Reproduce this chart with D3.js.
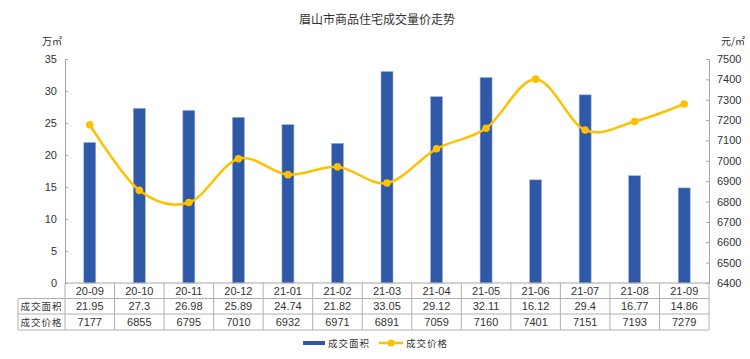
<!DOCTYPE html>
<html>
<head>
<meta charset="utf-8">
<script src="https://cdn.jsdelivr.net/npm/d3@7"></script>
<style>
  body { margin: 0; background: #fff; }
  text { font-family: "Liberation Sans", Arial, sans-serif; fill: #333; }
  .cjk { font-family: "Noto Sans CJK SC", sans-serif; }
</style>
</head>
<body>
<div id="chart"></div>
<script>
const months = ['20-09', '20-10', '20-11', '20-12', '21-01', '21-02', '21-03', '21-04', '21-05', '21-06', '21-07', '21-08', '21-09']
const areaValues = [21.95, 27.3, 26.98, 25.89, 24.74, 21.82, 33.05, 29.12, 32.11, 16.12, 29.4, 16.77, 14.86]
const priceValues = [7177, 6855, 6795, 7010, 6932, 6971, 6891, 7059, 7160, 7401, 7151, 7193, 7279]
const areaTicks = [0, 5, 10, 15, 20, 25, 30, 35]
const priceTicks = [6400, 6500, 6600, 6700, 6800, 6900, 7000, 7100, 7200, 7300, 7400, 7500]

const width = 750
const height = 359
const plot = { left: 65, right: 709, top: 59, bottom: 283 }

const barColor = '#2f59a7'
const lineColor = '#ffc000'
const gridColor = '#a6a6a6'

const svg = d3.select('#chart')
  .append('svg')
  .attr('width', width)
  .attr('height', height)

// scales
const x = d3.scaleBand()
  .domain(months)
  .range([plot.left, plot.right])
  .padding(0)

const yLeft = d3.scaleLinear()
  .domain([0, 35])
  .range([plot.bottom, plot.top])

const yRight = d3.scaleLinear()
  .domain([6400, 7500])
  .range([plot.bottom, plot.top])

// title
svg.append('text')
  .attr('class', 'cjk')
  .attr('x', 377)
  .attr('y', 24)
  .attr('text-anchor', 'middle')
  .style('font-size', '12px')
  .text('眉山市商品住宅成交量价走势')

// units
svg.append('text')
  .attr('class', 'cjk')
  .attr('x', 42)
  .attr('y', 45)
  .style('font-size', '10px')
  .text('万㎡')

svg.append('text')
  .attr('class', 'cjk')
  .attr('x', 721)
  .attr('y', 45)
  .style('font-size', '10px')
  .text('元/㎡')

// left axis
const leftAxis = svg.append('g')
  .attr('transform', `translate(${plot.left},0)`)
  .call(d3.axisLeft(yLeft).tickValues(areaTicks).tickSizeInner(-3).tickSizeOuter(0).tickPadding(8))
leftAxis.select('.domain').attr('stroke', gridColor)
leftAxis.selectAll('.tick line').attr('stroke', gridColor)
leftAxis.selectAll('.tick text')
  .style('font-size', '11px')
  .style('font-family', '"Liberation Sans", Arial, sans-serif')
  .attr('fill', '#333')

// right axis
const rightAxis = svg.append('g')
  .attr('transform', `translate(${plot.right},0)`)
  .call(d3.axisRight(yRight).tickValues(priceTicks).tickFormat(d3.format('d'))
    .tickSizeInner(-3).tickSizeOuter(0).tickPadding(8))
rightAxis.select('.domain').attr('stroke', gridColor)
rightAxis.selectAll('.tick line').attr('stroke', gridColor)
rightAxis.selectAll('.tick text')
  .style('font-size', '11px')
  .style('font-family', '"Liberation Sans", Arial, sans-serif')
  .attr('fill', '#333')

// bars
const barWidth = 12
svg.selectAll('.bar')
  .data(areaValues)
  .enter()
  .append('rect')
  .attr('class', 'bar')
  .attr('x', (d, i) => x(months[i]) + x.bandwidth() / 2 - barWidth / 2)
  .attr('y', d => yLeft(d))
  .attr('width', barWidth)
  .attr('height', d => yLeft(0) - yLeft(d))
  .attr('fill', barColor)
  .attr('stroke', '#9db4e0')
  .attr('stroke-width', 0.6)

// price line
const line = d3.line()
  .x((d, i) => x(months[i]) + x.bandwidth() / 2)
  .y(d => yRight(d))
  .curve(d3.curveCardinal)

svg.append('path')
  .datum(priceValues)
  .attr('d', line)
  .attr('fill', 'none')
  .attr('stroke', lineColor)
  .attr('stroke-width', 2.5)

svg.selectAll('.dot')
  .data(priceValues)
  .enter()
  .append('circle')
  .attr('class', 'dot')
  .attr('cx', (d, i) => x(months[i]) + x.bandwidth() / 2)
  .attr('cy', d => yRight(d))
  .attr('r', 3.8)
  .attr('fill', lineColor)

// data table
const tableLeft = 18
const rows = [plot.bottom, 298.5, 314, 330]
const borderColor = '#b0b0b0'
const table = svg.append('g')

// horizontal lines
table.append('line')
  .attr('x1', plot.left).attr('x2', plot.right)
  .attr('y1', rows[0]).attr('y2', rows[0])
  .attr('stroke', gridColor)
rows.slice(1).forEach(r => {
  table.append('line')
    .attr('x1', tableLeft).attr('x2', plot.right)
    .attr('y1', r).attr('y2', r)
    .attr('stroke', borderColor)
})

// vertical lines
table.append('line')
  .attr('x1', tableLeft).attr('x2', tableLeft)
  .attr('y1', rows[1]).attr('y2', rows[3])
  .attr('stroke', borderColor)
months.forEach(m => {
  table.append('line')
    .attr('x1', x(m)).attr('x2', x(m))
    .attr('y1', rows[0]).attr('y2', rows[3])
    .attr('stroke', borderColor)
})
table.append('line')
  .attr('x1', plot.right).attr('x2', plot.right)
  .attr('y1', rows[0]).attr('y2', rows[3])
  .attr('stroke', borderColor)

function rowText(values, r) {
  table.selectAll(null)
    .data(values)
    .enter()
    .append('text')
    .attr('x', (d, i) => x(months[i]) + x.bandwidth() / 2)
    .attr('y', (rows[r] + rows[r + 1]) / 2 + 4)
    .attr('text-anchor', 'middle')
    .style('font-size', '11px')
    .text(d => d)
}
rowText(months, 0)
rowText(areaValues, 1)
rowText(priceValues, 2)

const rowLabels = ['成交面积', '成交价格']
rowLabels.forEach((label, i) => {
  table.append('text')
    .attr('class', 'cjk')
    .attr('x', (tableLeft + plot.left) / 2)
    .attr('y', (rows[i + 1] + rows[i + 2]) / 2 + 3.5)
    .attr('text-anchor', 'middle')
    .attr('letter-spacing', 1)
    .style('font-size', '9.5px')
    .text(label)
})

// legend
const legend = svg.append('g')
legend.append('rect')
  .attr('x', 303).attr('y', 341)
  .attr('width', 22).attr('height', 4)
  .attr('fill', barColor)
legend.append('text')
  .attr('class', 'cjk')
  .attr('x', 328).attr('y', 346.5)
  .attr('letter-spacing', 1)
  .style('font-size', '9.5px')
  .text('成交面积')
legend.append('line')
  .attr('x1', 379).attr('x2', 403)
  .attr('y1', 343).attr('y2', 343)
  .attr('stroke', lineColor)
  .attr('stroke-width', 2.5)
legend.append('circle')
  .attr('cx', 391).attr('cy', 343)
  .attr('r', 3.5)
  .attr('fill', lineColor)
legend.append('text')
  .attr('class', 'cjk')
  .attr('x', 406).attr('y', 346.5)
  .attr('letter-spacing', 1)
  .style('font-size', '9.5px')
  .text('成交价格')
</script>
</body>
</html>
